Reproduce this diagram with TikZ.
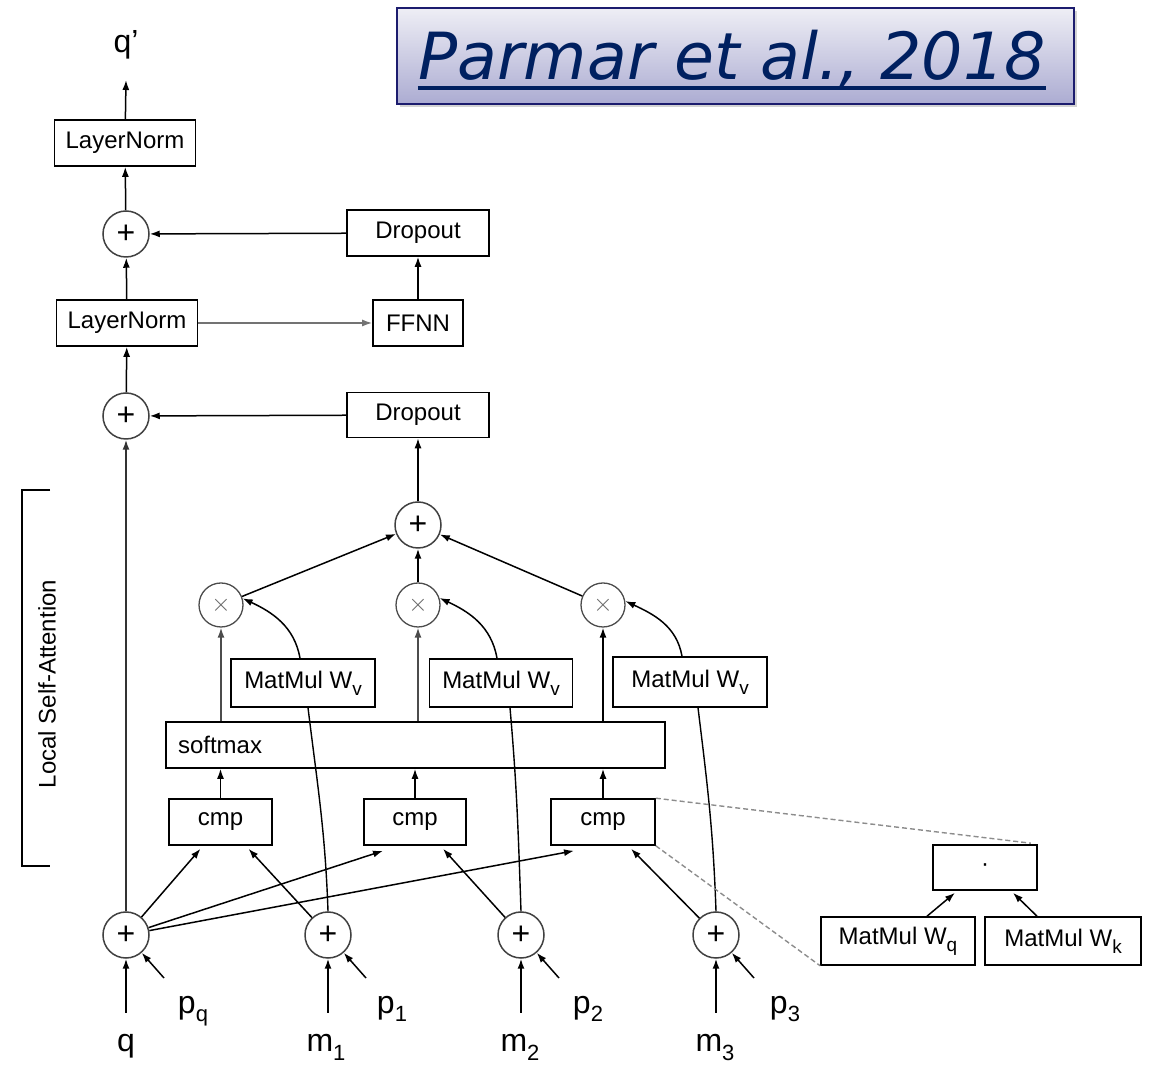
\documentclass[tikz,border=0pt]{standalone}
\usepackage{fontspec}
\setmainfont{Liberation Sans}
\newfontfamily\titlefont{DejaVu Sans}
\usetikzlibrary{arrows.meta,calc,shadows}

\definecolor{navy}{RGB}{0,32,96}
\definecolor{titleedge}{RGB}{28,28,110}
\definecolor{titletop}{RGB}{238,238,245}
\definecolor{titlebottom}{RGB}{172,172,210}

% lowered subscript in text
\newcommand\lowsub[3][7pt]{\raisebox{-#1}{\fontsize{#2}{#2}\selectfont #3}}

\begin{document}
\begin{tikzpicture}[x=1pt,y=1pt,
  every node/.style={font=\fontsize{24}{26}\selectfont},
  box/.style={draw, line width=1.6pt, inner sep=0pt},
  opnode/.style={draw=black!75, circle, line width=1.5pt, inner sep=0pt,
    minimum size=46pt, font=\fontsize{32}{32}\selectfont},
  mulnode/.style={draw=black!70, circle, line width=1.3pt, inner sep=0pt,
    minimum size=44pt, text=black!60, font=\fontsize{29}{29}\selectfont},
  arr/.style={-{Latex[length=10pt,width=7pt]}, line width=1.5pt},
  link/.style={line width=1.4pt},
  zoomline/.style={dash pattern=on 5pt off 3pt, draw=black!45, line width=1.4pt},
  lbl/.style={font=\fontsize{32}{34}\selectfont, inner sep=0pt, anchor=base}
]
\useasboundingbox (0,0) rectangle (1156,1065);

% ---- citation banner
\node[draw=titleedge, line width=2pt, top color=titletop, bottom color=titlebottom,
  minimum width=677pt, minimum height=96pt,
  drop shadow={shadow xshift=3pt, shadow yshift=-3pt, opacity=0.35}] (tbox) at (735.5,1009) {};
\node[anchor=base, inner sep=0pt, text=navy,
  font=\titlefont\itshape\fontsize{65}{70}\selectfont] (ttl) at (732,985) {Parmar et al., 2018};
\draw[navy, line width=3.5pt] ($(ttl.base west)+(0,-8)$) -- ($(ttl.base east)+(0,-8)$);

% ---- residual / feed-forward stack
\node[lbl] (qp) at (126,1012) {q’};
\coordinate (qtip) at (126,985);
\node[box, minimum width=141pt, minimum height=46pt] (ln1) at (125,922) {LayerNorm};
\node[opnode] (p1) at (126,831) {+};
\node[box, minimum width=142pt, minimum height=46pt] (d1) at (418,832) {Dropout};
\node[box, minimum width=141pt, minimum height=46pt] (ln2) at (127,742) {LayerNorm};
\node[box, minimum width=90pt, minimum height=46pt] (ffnn) at (418,742) {FFNN};
\node[opnode] (p2) at (126,649) {+};
\node[box, minimum width=142pt, minimum height=45pt] (d2) at (418,650) {Dropout};

% ---- attention block
\node[opnode] (sum) at (418,540) {+};
\node[mulnode] (t1) at (221,460) {$\times$};
\node[mulnode] (t2) at (418,460) {$\times$};
\node[mulnode] (t3) at (603,460) {$\times$};
\node[box, minimum width=144pt, minimum height=48pt] (v1) at (303,382) {MatMul W\lowsub{19}{v}};
\node[box, minimum width=143pt, minimum height=48pt] (v2) at (501,382) {MatMul W\lowsub{19}{v}};
\node[box, minimum width=154pt, minimum height=50pt] (v3) at (690,383) {MatMul W\lowsub{19}{v}};
\node[box, minimum width=499pt, minimum height=46pt, inner xsep=12pt,
  text width=475pt, align=left] (sm) at (415.5,320) {softmax};
\node[box, minimum width=103pt, minimum height=46pt] (c1) at (220.5,243) {cmp};
\node[box, minimum width=102pt, minimum height=46pt] (c2) at (415,243) {cmp};
\node[box, minimum width=104pt, minimum height=46pt] (c3) at (603,243) {cmp};

% ---- inputs
\node[opnode] (q0) at (126,130) {+};
\node[opnode] (m1) at (328,130) {+};
\node[opnode] (m2) at (521,130) {+};
\node[opnode] (m3) at (716,130) {+};
\node[lbl] (lq) at (126,13) {q};
\node[lbl] (lm1) at (326,13) {m\lowsub[9pt]{22}{1}};
\node[lbl] (lm2) at (520,13) {m\lowsub[9pt]{22}{2}};
\node[lbl] (lm3) at (715,13) {m\lowsub[9pt]{22}{3}};
\node[lbl] (lpq) at (193,51) {p\lowsub[8pt]{22}{q}};
\node[lbl] (lp1) at (392,51) {p\lowsub[8pt]{22}{1}};
\node[lbl] (lp2) at (588,51) {p\lowsub[8pt]{22}{2}};
\node[lbl] (lp3) at (785,51) {p\lowsub[8pt]{22}{3}};
\foreach \n/\x in {q0/126, m1/328, m2/521, m3/716} {
  \coordinate (\n in) at (\x,52);
  \coordinate (\n pos) at (\x+38,87);
}

% ---- detail of cmp
\node[box, minimum width=104pt, minimum height=45pt] (dot) at (985,197.5) {·};
\node[box, minimum width=154pt, minimum height=48pt] (wq) at (898,124) {MatMul W\lowsub{19}{q}};
\node[box, minimum width=156pt, minimum height=48pt] (wk) at (1063,124) {MatMul W\lowsub{19}{k}};

% ---- bracket of the local self-attention part
\draw[line width=1.6pt] (50,575) -- (22,575) -- (22,199) -- (50,199);
\node[rotate=90] (lsa) at (47,381) {Local Self-Attention};

% ---- connectors: stack
\draw[arr] (ln1) -- (qtip);
\draw[arr] (p1) -- (ln1);
\draw[arr] (d1) -- (p1);
\draw[arr] (ln2) -- (p1);
\draw[arr] (ffnn) -- (d1);
\draw[arr, draw=black!55] (ln2) -- (ffnn);
\draw[arr] (p2) -- (ln2);
\draw[arr] (d2) -- (p2);
\draw[arr] (sum) -- (d2);
\draw[arr, draw=black!80] (q0) -- (p2);

% ---- connectors: attention
\draw[arr] (t1) -- (sum);
\draw[arr] (t2) -- (sum);
\draw[arr] (t3) -- (sum);
\draw[arr, draw=black!70] (sm.north -| t1) -- (t1);
\draw[arr, draw=black!70] (sm.north -| t2) -- (t2);
\draw[arr] (sm.north -| t3) -- (t3);
\draw[arr] (c1) -- (c1 |- sm.south);
\draw[arr] (c2) -- (c2 |- sm.south);
\draw[arr] (c3) -- (c3 |- sm.south);

\draw[arr] ($(v1.north)+(-3,0)$) to[out=100,in=-25] (t1.17);
\draw[arr] ($(v2.north)+(-4,0)$) to[out=100,in=-25] (t2.18);
\draw[arr] ($(v3.north)+(-8,0)$) to[out=100,in=-25] (t3.10);
\draw[link] ($(v1.south)+(5,0)$) to[out=-83,in=92] (m1.north);
\draw[link] ($(v2.south)+(9,0)$) to[out=-85,in=92] (m2.north);
\draw[link] ($(v3.south)+(8,0)$) to[out=-83,in=92] (m3.north);

\draw[arr] (q0) -- ($(c1.south)+(-20,-3)$);
\draw[arr] (q0) -- ($(c2.south)+(-32,-5)$);
\draw[arr] (q0) -- ($(c3.south)+(-29,-5)$);
\draw[arr] (m1) -- ($(c1.south)+(28,-3)$);
\draw[arr] (m2) -- ($(c2.south)+(28,-3)$);
\draw[arr] (m3) -- ($(c3.south)+(28,-3)$);

% ---- connectors: inputs
\foreach \n in {q0, m1, m2, m3} {
  \draw[arr] (\n in) -- (\n);
  \draw[arr] (\n pos) -- (\n);
}

% ---- connectors: cmp detail
\draw[arr] ($(wq.north)+(29,0)$) -- ($(dot.south)+(-30,-2)$);
\draw[arr] ($(wk.north)+(-26,0)$) -- ($(dot.south)+(28,-2)$);
\draw[zoomline] (c3.north east) -- ($(dot.north east)+(-7,1)$);
\draw[zoomline] (c3.south east) -- (wq.south west);
\end{tikzpicture}
\end{document}
